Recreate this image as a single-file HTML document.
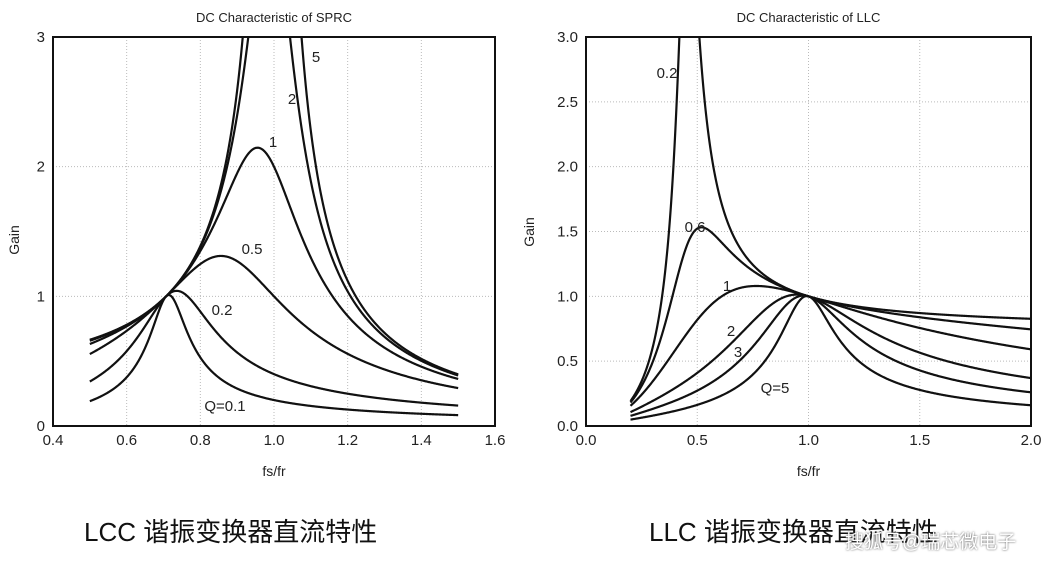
<!DOCTYPE html>
<html><head><meta charset="utf-8"><style>
body{margin:0;background:#fff;width:1063px;height:561px;overflow:hidden}
svg text{font-family:"Liberation Sans",sans-serif;fill:#222}
.cap{position:absolute;top:512px;font-family:"Liberation Sans","Noto Sans CJK SC",sans-serif;font-size:26px;color:#111}
</style></head><body>
<svg id="s" width="1063" height="561" style="position:absolute;left:0;top:0"></svg>
<div class="cap" style="left:84px">LCC 谐振变换器直流特性</div>
<div class="cap" style="left:649px">LLC 谐振变换器直流特性</div>
<div class="cap" style="left:845px;top:527px;font-size:19px;color:#fff;text-shadow:0 0 2px #555">搜狐号@瑞芯微电子</div>
<script>
const s=document.getElementById('s');let h='';
function ax(L,R,T,B,x0,x1,y0,y1,xt,yt,title,xd,yd){
 const X=v=>L+(v-x0)/(x1-x0)*(R-L),Y=v=>B-(v-y0)/(y1-y0)*(B-T);
 h+=`<clipPath id="c${L}"><rect x="${L}" y="${T}" width="${R-L}" height="${B-T}"/></clipPath>`;
 xt.forEach(v=>{const x=X(v);if(x>L+1&&x<R-1)h+=`<line x1="${x}" y1="${T}" x2="${x}" y2="${B}" stroke="#bbb" stroke-dasharray="1,2"/>`;
  h+=`<text x="${x}" y="${B+19}" font-size="15" text-anchor="middle">${v.toFixed(xd)}</text>`});
 yt.forEach(v=>{const y=Y(v);if(y>T+1&&y<B-1)h+=`<line x1="${L}" y1="${y}" x2="${R}" y2="${y}" stroke="#bbb" stroke-dasharray="1,2"/>`;
  h+=`<text x="${L-8}" y="${y+5}" font-size="15" text-anchor="end">${v.toFixed(yd)}</text>`});
 h+=`<rect x="${L}" y="${T}" width="${R-L}" height="${B-T}" fill="none" stroke="#111" stroke-width="2"/>`;
 h+=`<text x="${(L+R)/2}" y="22" font-size="13" text-anchor="middle">${title}</text>`;
 h+=`<text x="${(L+R)/2}" y="476" font-size="14" text-anchor="middle">fs/fr</text>`;
 return [X,Y];
}
function curve(X,Y,f,a,b,id){let d='';for(let i=0;i<=800;i++){const x=a+(b-a)*i/800;let y=f(x);if(y>3.3)y=3.3;d+=(i?'L':'M')+X(x).toFixed(2)+','+Y(y).toFixed(2)}
 h+=`<path d="${d}" fill="none" stroke="#111" stroke-width="2.2" clip-path="url(#c${id})"/>`}
let [X,Y]=ax(53,495,37,426,0.4,1.6,0,3,[0.4,0.6,0.8,1.0,1.2,1.4,1.6],[0,1,2,3],'DC Characteristic of SPRC',1,0);
[0.1,0.2,0.5,1,2,5].forEach(Q=>curve(X,Y,w=>{const x=w*Math.SQRT2;const a=2-x*x,b=x-1/x;return 1/Math.sqrt(a*a+b*b/(2*Q*Q))},0.5,1.5,53));
h+=`<text transform="translate(19,240) rotate(-90)" font-size="14" text-anchor="middle">Gain</text>`;
[X,Y]=ax(586,1031,37,426,0,2,0,3,[0,0.5,1,1.5,2],[0,0.5,1,1.5,2,2.5,3],'DC Characteristic of LLC',1,1);
const Ln=3.9;
[0.136,0.41,0.8,1.62,2.44,4.09].forEach(q=>curve(X,Y,x=>{const a=(Ln+1)*x*x-1,b=Ln*x*(x*x-1)*q;return Ln*x*x/Math.sqrt(a*a+b*b)},0.2,2,586));
h+=`<text transform="translate(534,232) rotate(-90)" font-size="14" text-anchor="middle">Gain</text>`;
[[316,62,'5'],[292,104,'2'],[273,147,'1'],[252,254,'0.5'],[222,315,'0.2'],[225,411,'Q=0.1'],
 [667,78,'0.2'],[695,232,'0.6'],[727,291,'1'],[731,336,'2'],[738,357,'3'],[775,393,'Q=5']].forEach(t=>h+=`<text x="${t[0]}" y="${t[1]}" font-size="15" text-anchor="middle">${t[2]}</text>`);
s.innerHTML=h;
</script>
</body></html>
